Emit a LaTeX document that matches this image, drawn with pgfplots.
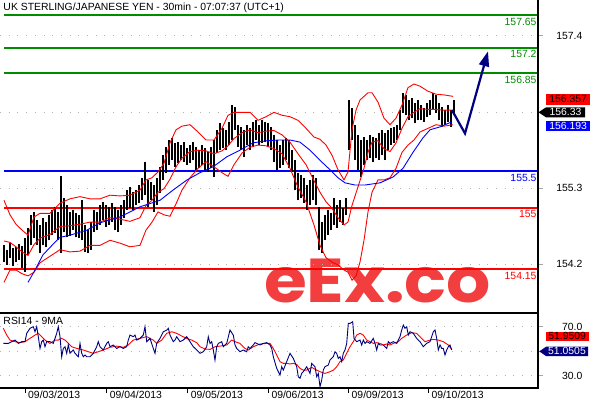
\documentclass[border=0pt]{standalone}
\usepackage{pgfplots}
\pgfplotsset{compat=1.18}
\usepackage{pgfplotstable}
\usepackage{fontspec}
\setmainfont{Liberation Sans}
\newfontfamily\wmfont{Poppins}
\usetikzlibrary{arrows.meta}
\definecolor{lgreen}{RGB}{0,140,0}
\definecolor{navyb}{RGB}{0,0,128}
\definecolor{wmred}{RGB}{242,62,62}
\newcommand\lab{\fontsize{10.4bp}{12bp}\selectfont}

\pgfplotstableread{
x lo hi
4 154.25 154.48
7 154.21 154.42
10 154.31 154.51
13 154.20 154.44
16 154.25 154.46
19 154.28 154.50
22 154.17 154.47
25 154.11 154.58
28 154.35 154.72
31 154.48 154.90
34 154.58 154.94
37 154.48 154.83
40 154.37 154.76
43 154.48 154.86
46 154.46 154.80
49 154.55 154.90
52 154.62 154.97
55 154.65 155.01
58 154.55 154.94
61 154.37 155.43
64 154.66 155.13
67 154.59 155.03
70 154.61 154.94
73 154.69 154.97
76 154.59 154.92
79 154.58 154.90
82 154.55 155.10
85 154.39 154.76
88 154.37 154.69
91 154.42 154.80
94 154.66 154.97
97 154.69 154.94
100 154.76 155.03
103 154.83 155.08
106 154.73 155.03
109 154.76 155.01
112 154.80 155.06
115 154.69 155.01
118 154.66 154.97
121 154.76 155.03
124 154.86 155.10
127 154.97 155.24
130 154.99 155.28
133 154.97 155.21
136 155.03 155.24
139 155.06 155.31
142 155.10 155.41
145 155.17 155.63
148 155.01 155.38
151 155.10 155.35
154 154.94 155.31
157 155.03 155.41
160 155.20 155.56
163 155.38 155.72
166 155.48 155.83
169 155.59 155.93
172 155.65 155.96
175 155.56 155.89
178 155.61 155.90
181 155.65 155.86
184 155.63 155.90
187 155.59 155.82
190 155.61 155.86
193 155.65 155.90
196 155.52 155.83
199 155.54 155.79
202 155.59 155.86
205 155.52 155.82
208 155.49 155.76
211 155.54 155.83
214 155.42 155.93
217 155.75 156.07
220 155.79 156.16
223 155.82 156.09
226 155.79 156.07
229 155.86 156.18
232 155.93 156.41
235 156.07 156.38
238 155.83 156.14
241 155.79 156.11
244 155.70 156.07
247 155.86 156.14
250 155.79 156.09
253 155.83 156.18
256 155.93 156.20
259 155.86 156.14
262 155.89 156.20
265 155.90 156.18
268 155.83 156.16
271 155.79 156.11
274 155.63 156.00
277 155.52 155.93
280 155.54 155.86
283 155.59 155.93
286 155.65 155.96
289 155.54 155.93
292 155.49 155.79
295 155.24 155.65
298 155.10 155.48
301 155.13 155.45
304 155.06 155.41
307 154.97 155.31
310 155.03 155.38
313 155.10 155.45
316 155.03 155.41
319 154.42 155.01
322 154.37 154.80
325 154.55 154.90
328 154.62 154.97
331 154.69 154.92
334 154.76 155.13
337 154.72 155.03
340 154.80 155.10
343 154.76 154.99
346 154.90 155.13
349 155.79 156.48
352 155.93 156.37
355 155.65 156.14
358 155.52 156.00
361 155.42 155.93
364 155.59 155.97
367 155.65 155.93
370 155.68 156.00
373 155.63 155.97
376 155.68 155.96
379 155.65 156.03
382 155.72 156.07
385 155.65 156.03
388 155.79 156.07
391 155.86 156.09
394 155.89 156.11
397 155.93 156.14
400 156.07 156.34
403 156.30 156.58
406 156.27 156.55
409 156.20 156.48
412 156.23 156.51
415 156.16 156.44
418 156.20 156.48
421 156.20 156.41
424 156.18 156.37
427 156.25 156.44
430 156.27 156.48
433 156.34 156.58
436 156.30 156.55
439 156.20 156.44
442 156.11 156.38
445 156.14 156.34
448 156.18 156.41
451 156.11 156.34
454 156.27 156.48
}\bars

\pgfplotstableread{
x u m l
4 155.10 154.54 153.97
10 154.90 154.52 154.14
16 154.77 154.46 154.14
22 154.69 154.39 154.09
28 154.62 154.34 154.06
34 154.87 154.49 154.11
40 154.92 154.58 154.24
50 154.92 154.63 154.33
60 155.06 154.74 154.42
70 155.12 154.75 154.39
80 155.15 154.77 154.40
90 155.12 154.80 154.48
100 155.12 154.80 154.48
110 155.17 154.86 154.55
120 155.16 154.84 154.51
130 155.17 154.81 154.46
140 155.24 154.86 154.48
146 155.38 155.03 154.69
152 155.41 155.10 154.80
158 155.49 155.21 154.94
164 155.61 155.26 154.90
170 155.89 155.39 154.88
176 156.07 155.56 155.05
182 156.12 155.68 155.24
190 156.14 155.77 155.41
198 156.04 155.79 155.54
206 155.93 155.78 155.63
214 155.93 155.74 155.56
222 156.09 155.78 155.48
228 156.27 155.85 155.43
234 156.31 155.95 155.59
242 156.31 156.03 155.75
250 156.31 156.07 155.83
258 156.20 156.03 155.86
266 156.25 156.05 155.85
274 156.31 156.06 155.81
282 156.27 156.00 155.74
290 156.25 155.90 155.54
298 156.20 155.74 155.28
306 156.09 155.59 155.08
314 155.97 155.37 154.76
320 155.94 155.21 154.48
326 155.86 155.08 154.31
332 155.72 154.99 154.25
338 155.52 154.86 154.21
344 155.38 154.76 154.14
348 155.49 154.80 154.11
352 156.07 155.03 154.00
356 156.34 155.20 154.06
360 156.48 155.37 154.25
364 156.53 155.54 154.55
368 156.58 155.76 154.94
372 156.58 155.90 155.21
378 156.45 155.92 155.38
384 156.23 155.81 155.38
390 156.14 155.77 155.41
396 156.23 155.89 155.54
402 156.41 156.09 155.76
408 156.65 156.25 155.86
414 156.70 156.31 155.93
420 156.67 156.36 156.04
428 156.60 156.35 156.09
436 156.56 156.35 156.14
444 156.55 156.34 156.12
453 156.53 156.34 156.14
}\bands

\pgfplotstableread{
x ma
28 153.97
35 154.14
43 154.35
52 154.48
60 154.59
70 154.62
87 154.69
100 154.79
110 154.83
120 154.87
140 155.01
160 155.10
173 155.24
187 155.38
200 155.48
213 155.56
227 155.70
240 155.79
253 155.89
267 155.92
280 155.93
290 155.93
300 155.90
310 155.79
320 155.65
330 155.52
338 155.41
345 155.34
355 155.31
365 155.31
380 155.34
393 155.42
403 155.54
413 155.76
423 155.96
430 156.07
440 156.11
452 156.18
}\bluema

\pgfplotstableread{
x v
3.3 56.4
8.3 56.4
11.7 57.8
15 59.1
18.3 56.4
21.7 57.8
25 57.8
26.7 64.6
30 68.7
33.3 70.0
35 65.9
36.7 70.0
38.3 61.9
40 52.3
41.7 57.8
43.3 59.1
45 53.7
46.7 57.8
50 57.8
53.3 56.4
56.7 64.6
58.3 70.0
60 61.9
61.7 45.5
63.3 52.3
65 53.7
66.7 48.3
68.3 55.1
70 48.3
73.3 51.0
75 48.3
78.3 45.5
80 56.4
81.7 48.3
83.3 45.5
85 46.9
86.7 45.5
90 45.5
93.3 48.3
96.7 53.7
98.3 57.8
100 53.7
103.3 51.0
106.7 56.4
108.3 57.8
110 53.7
113.3 55.1
116.7 52.3
120 53.7
123.3 52.3
126.7 53.7
128.3 59.1
130 63.2
133.3 61.9
135 63.2
136.7 59.1
140 60.5
143.3 63.2
145 70.0
146.7 57.8
150 60.5
153.3 52.3
155 48.3
156.7 56.4
160 60.5
163.3 65.9
166.7 67.3
168.3 68.7
170 63.2
173.3 57.8
175 59.1
176.7 61.9
180 57.8
183.3 59.1
186.7 61.9
190 57.8
193.3 53.7
196.7 51.0
200 48.3
203.3 49.6
206.7 53.7
208.3 61.9
210 56.4
211.7 57.8
213.3 51.0
215 42.8
216.7 53.7
218.3 56.4
221.7 57.8
223.3 53.7
226.7 56.4
230 67.3
233.3 63.2
235 55.1
236.7 52.3
240 49.6
243.3 51.0
246.7 49.6
248.3 53.7
250 52.3
253.3 55.1
255 57.0
256.7 56.4
260 55.1
263.3 56.4
266.7 57.0
270 55.1
271.7 52.3
273.3 45.5
276.7 36.0
280 30.6
281.7 37.4
283.3 34.6
286.7 41.5
290 48.3
293.3 44.2
296.7 37.4
298.3 29.2
300 27.9
301.7 31.9
303.3 33.3
306.7 37.4
310 31.9
311.7 40.1
313.3 38.7
315 37.4
316.7 29.2
318.3 31.9
320 21.0
321.7 26.5
323.3 34.6
325 37.4
328.3 38.7
330 42.8
333.3 45.5
335 49.6
336.7 48.3
338.3 44.2
340 45.5
341.7 41.5
343.3 48.3
345 51.0
346.7 56.4
348.3 72.7
350 72.7
352.7 74.1
354 60.5
356.7 57.8
360 59.1
361.7 55.1
363.3 59.1
365 56.4
366.7 57.8
370 56.4
373.3 60.5
375 56.4
376.7 51.0
378.3 56.4
380 55.1
383.3 55.1
386.7 52.3
388.3 57.8
390 56.4
393.3 57.8
396.7 56.4
400 61.9
401.7 67.3
403.3 71.4
405 68.7
406.7 70.0
408.3 63.2
410 65.9
413.3 64.6
416.7 60.5
420 57.8
423.3 53.7
426.7 56.4
430 57.8
431.7 61.9
433.3 65.9
435 67.3
436.7 60.5
438.3 51.0
440 55.1
441.7 52.3
443.3 52.3
445 46.9
446.7 51.0
448.3 53.7
450 55.1
451.7 51.0
}\rsi

\pgfplotstableread{
x v
3.3 68.7
6.7 63.2
10 59.1
15 57.8
20 57.0
25 57.8
30 60.5
35 63.2
38.3 64.6
41.7 61.9
45 59.1
50 56.4
55 59.1
58.3 59.1
61.7 60.5
65 59.1
68.3 56.4
71.7 53.7
76.7 52.3
83.3 51.0
88.3 49.6
93.3 48.3
98.3 49.6
103.3 51.0
110 53.2
116.7 54.2
123.3 53.2
128.3 55.1
133.3 59.1
140 60.5
146.7 61.9
150 60.5
153.3 59.1
156.7 56.4
161.7 59.1
166.7 64.6
171.7 65.9
176.7 64.6
181.7 62.4
186.7 60.5
191.7 59.1
196.7 57.0
200 53.7
205 51.8
210 51.5
215 53.7
220 54.2
226.7 55.1
231.7 59.1
235 57.8
240 56.4
245 52.3
248.3 51.0
253.3 53.7
260 55.9
266.7 56.4
270 56.4
273.3 52.3
276.7 46.9
280 41.5
283.3 40.1
286.7 40.1
290 39.6
293.3 40.1
296.7 39.3
300 36.0
303.3 34.6
306.7 34.6
311.7 36.8
316.7 34.6
320 33.3
325 31.9
330 33.3
333.3 34.6
336.7 37.4
340 41.5
343.3 42.8
346.7 48.3
350 53.7
353.3 57.8
356.7 63.2
360 64.6
363.3 63.2
366.7 59.1
370 57.8
373.3 56.4
376.7 57.0
380 56.4
383.3 55.1
386.7 55.9
390 55.1
393.3 56.4
398.3 57.8
401.7 60.5
406.7 63.2
411.7 65.1
416.7 64.6
420 61.9
425 57.8
430 59.1
433.3 59.7
438.3 59.1
443.3 57.8
448.3 55.1
451.7 51.5
}\rsima

\begin{document}
\begin{tikzpicture}
\begin{axis}[
  name=main, set layers,
  width=538bp, height=313bp, scale only axis,
  xmin=0, xmax=538, ymin=153.549, ymax=157.856,
  axis line style={draw=none},
  clip=false,
  xtick=\empty,
  ytick={154.219,155.265,156.311,157.365},
  yticklabels={154.2,155.3,,157.4},
  ytick pos=right, yticklabel pos=right,
  tick align=outside,
  major tick length=5bp,
  ytick style={gray!70, line width=0.6bp},
  yticklabel style={font=\lab, anchor=east, inner sep=0pt, xshift=39.5bp},
  ymajorgrids,
  major grid style={gray!60, line width=0.8bp, dash pattern=on 0.8bp off 7.9bp},
]
\begin{pgfonlayer}{axis background}
\node[font=\wmfont\bfseries\fontsize{62bp}{62bp}\selectfont, text=wmred, anchor=base, inner sep=0pt] at (axis cs:377.5,153.70) {\scalebox{1.12}[1]{eEx.co}};
\end{pgfonlayer}
% support / resistance lines
\addplot[lgreen, line width=2bp] coordinates {(4,157.65) (538,157.65)} node[pos=1, anchor=north east, inner sep=0.5bp, yshift=-1.5bp, font=\lab, text=lgreen] {157.65};
\addplot[lgreen, line width=2bp] coordinates {(4,157.2) (538,157.2)} node[pos=1, anchor=north east, inner sep=0.5bp, yshift=-1.5bp, font=\lab, text=lgreen] {157.2};
\addplot[lgreen, line width=2bp] coordinates {(4,156.85) (538,156.85)} node[pos=1, anchor=north east, inner sep=0.5bp, yshift=-1.5bp, font=\lab, text=lgreen] {156.85};
\addplot[blue, line width=2bp] coordinates {(4,155.5) (538,155.5)} node[pos=1, anchor=north east, inner sep=0.5bp, yshift=-1.5bp, font=\lab, text=blue] {155.5};
\addplot[red, line width=2bp] coordinates {(4,155) (538,155)} node[pos=1, anchor=north east, inner sep=0.5bp, yshift=-1.5bp, font=\lab, text=red] {155};
\addplot[red, line width=2bp] coordinates {(4,154.15) (538,154.15)} node[pos=1, anchor=north east, inner sep=0.5bp, yshift=-1.5bp, font=\lab, text=red] {154.15};
% bars (high-low)
\addplot[draw=none, mark=none, error bars/.cd, y dir=plus, y explicit, error mark=none,
  error bar style={draw=black, solid, line width=1.25bp}]
  table[x=x, y=lo, y error expr=\thisrow{hi}-\thisrow{lo}] {\bars};
% bands and moving average
\addplot[red, line width=0.9bp] table[x=x, y=u] {\bands};
\addplot[red, line width=0.9bp] table[x=x, y=m] {\bands};
\addplot[red, line width=0.9bp] table[x=x, y=l] {\bands};
\addplot[blue, line width=0.9bp] table[x=x, y=ma] {\bluema};
% forecast arrow
\addplot[navyb, line width=2.2bp, -{Triangle[length=15bp,width=10bp]}] coordinates {(452,156.34) (465,156.02) (488,157.15)};
% value boxes
\node[fill=red, text=black, inner sep=0pt, minimum width=44.3bp, minimum height=10.7bp, anchor=west, font=\lab] at (axis cs:545.7,156.489) {156.357};
\fill[black] (axis cs:538.5,156.311) -- (axis cs:546,156.379) -- (axis cs:585,156.379) -- (axis cs:585,156.242) -- (axis cs:546,156.242) -- cycle;
\node[text=white, inner sep=0pt, font=\lab] at (axis cs:565.5,156.311) {156.33};
\node[fill=blue, text=white, inner sep=0pt, minimum width=44.3bp, minimum height=10bp, anchor=west, font=\lab] at (axis cs:545.7,156.126) {156.193};
% title
\node[anchor=base west, inner sep=0pt, font=\lab] at (axis cs:3.3,157.705) {UK STERLING/JAPANESE YEN - 30min - 07:07:37 (UTC+1)};
\draw[black, line width=1.2bp] (rel axis cs:1,0) -- (rel axis cs:1,1);
\coordinate (TL) at (rel axis cs:0,1);
\end{axis}

\begin{axis}[
  name=rsi, at={(main.south west)}, anchor=north west,
  width=538bp, height=75bp, scale only axis,
  xmin=0, xmax=538, ymin=20, ymax=81.2,
  axis line style={draw=none}, clip=false,
  xtick={25,106.7,187.7,268.3,348.5,428.3},
  xticklabels={09/03/2013,09/04/2013,09/05/2013,09/06/2013,09/09/2013,09/10/2013},
  xtick pos=left, xticklabel pos=left,
  xticklabel style={font=\lab, anchor=north west, inner sep=0pt, xshift=3bp, yshift=2.5bp},
  ytick={30,50,70}, yticklabels={30.0,,70.0},
  ytick pos=right, yticklabel pos=right,
  tick align=outside, major tick length=5bp,
  xtick style={black, line width=0.8bp},
  ytick style={gray!70, line width=0.6bp},
  yticklabel style={font=\lab, anchor=east, inner sep=0pt, xshift=39.5bp},
  ymajorgrids,
  major grid style={gray!60, line width=0.8bp, dash pattern=on 0.8bp off 7.9bp},
]
\addplot[red, line width=0.9bp] table[x=x, y=v] {\rsima};
\addplot[navyb, line width=0.9bp] table[x=x, y=v] {\rsi};
\node[anchor=base west, inner sep=0pt, font=\lab] at (axis cs:3.3,72.2) {RSI14 - 9MA};
\node[fill=red, text=black, inner sep=0pt, minimum width=42.6bp, minimum height=9.3bp, anchor=west, font=\lab] at (axis cs:545.7,62.16) {51.9509};
\fill[navyb] (axis cs:539.3,49.9) -- (axis cs:546,53.67) -- (axis cs:588,53.67) -- (axis cs:588,46.08) -- (axis cs:546,46.08) -- cycle;
\node[text=white, inner sep=0pt, font=\lab] at (axis cs:567,49.9) {51.0505};
\draw[black, line width=1.2bp] (rel axis cs:0,1) -- (rel axis cs:1,1) -- (rel axis cs:1,0) -- (rel axis cs:0,0);
\end{axis}
\pgfresetboundingbox
\path[use as bounding box] (TL) rectangle +(590bp,-400bp);
\end{tikzpicture}
\end{document}
